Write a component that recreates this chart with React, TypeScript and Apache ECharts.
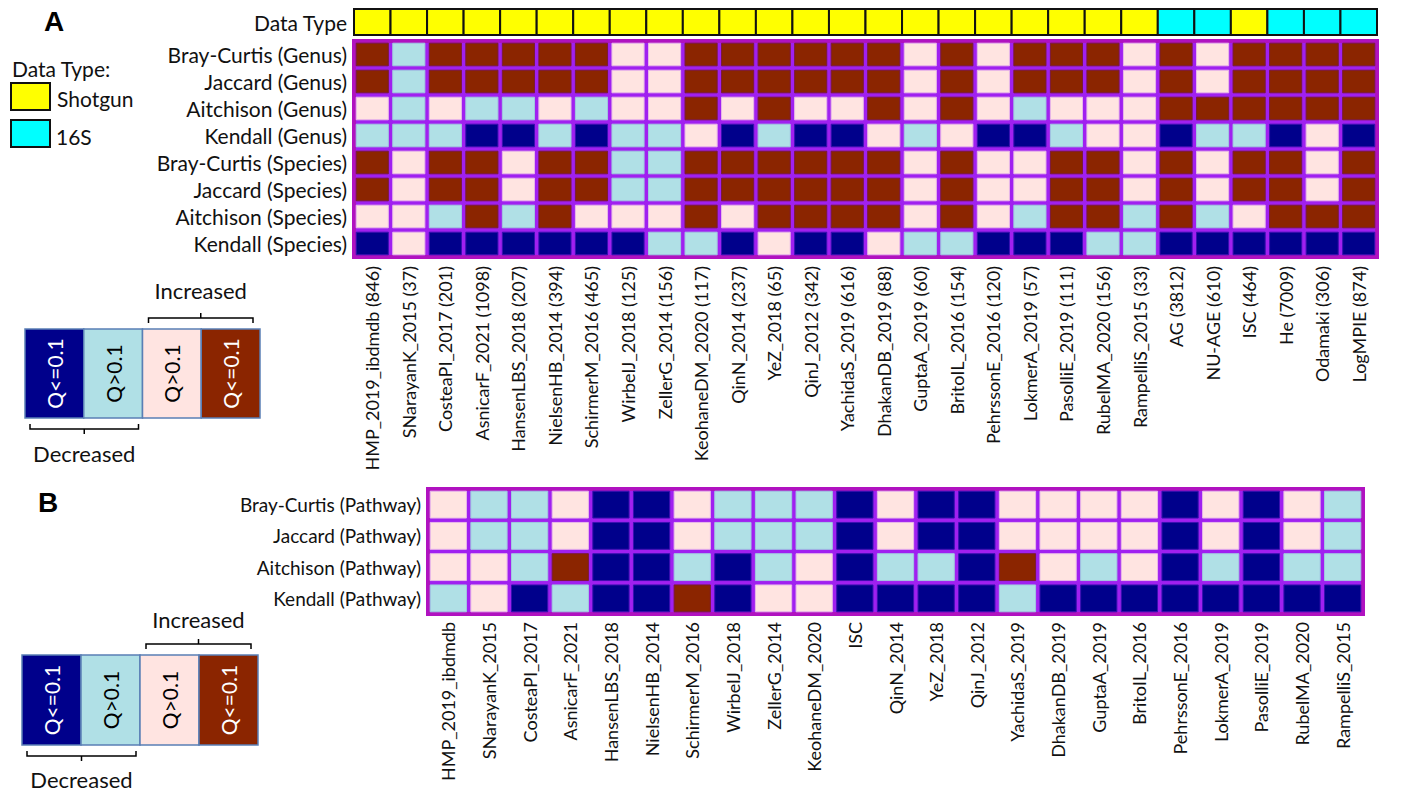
import React, { useEffect, useRef } from "react";
import * as echarts from "echarts";

// ---------- DATA ----------
const studiesA = [
  "HMP_2019_ibdmdb (846)", "SNarayanK_2015 (37)", "CosteaPI_2017 (201)", "AsnicarF_2021 (1098)",
  "HansenLBS_2018 (207)", "NielsenHB_2014 (394)", "SchirmerM_2016 (465)", "WirbelJ_2018 (125)",
  "ZellerG_2014 (156)", "KeohaneDM_2020 (117)", "QinN_2014 (237)", "YeZ_2018 (65)",
  "QinJ_2012 (342)", "YachidaS_2019 (616)", "DhakanDB_2019 (88)", "GuptaA_2019 (60)",
  "BritoIL_2016 (154)", "PehrssonE_2016 (120)", "LokmerA_2019 (57)", "PasolliE_2019 (111)",
  "RubelMA_2020 (156)", "RampelliS_2015 (33)", "AG (3812)", "NU-AGE (610)",
  "ISC (464)", "He (7009)", "Odamaki (306)", "LogMPIE (874)",
];
// 0 = Shotgun, 1 = 16S
const dataTypeA = [0,0,0,0,0,0,0,0,0,0,0,0,0,0,0,0,0,0,0,0,0,0,1,1,0,1,1,1];
const rowsA = [
  "Bray-Curtis (Genus)", "Jaccard (Genus)", "Aitchison (Genus)", "Kendall (Genus)",
  "Bray-Curtis (Species)", "Jaccard (Species)", "Aitchison (Species)", "Kendall (Species)",
];
// codes: 0 decreased Q<=0.1, 1 decreased Q>0.1, 2 increased Q>0.1, 3 increased Q<=0.1
const bcGenus   = [3,1,3,3,3,3,3,2,2,3,3,3,3,3, 3,2,3,2,3,3,3,2,3,2,3,3,3,3];
const jacGenus  = [3,1,3,3,3,3,3,2,2,3,3,3,3,3, 3,2,3,2,3,3,3,2,3,2,3,3,3,3];
const aitGenus  = [2,1,2,1,1,2,1,2,2,3,2,3,2,2, 3,2,3,2,1,2,2,2,3,3,3,3,3,3];
const kenGenus  = [1,1,1,0,0,1,0,1,1,2,0,1,0,0, 2,1,2,0,0,1,2,2,0,1,1,0,2,0];
const bcSpecies = [3,2,3,3,2,3,3,1,1,3,3,3,3,3, 3,2,3,2,2,3,3,2,3,2,3,3,2,3];
const jacSpecies= [3,2,3,3,2,3,3,1,1,3,3,3,3,3, 3,2,3,2,2,3,3,2,3,2,3,3,2,3];
const aitSpecies= [2,2,1,3,1,3,2,2,2,3,2,3,3,3, 3,2,3,2,1,3,3,1,3,1,2,3,3,3];
const kenSpecies= [0,2,0,0,0,0,0,0,1,1,0,2,0,0, 2,1,1,0,0,0,1,1,0,0,0,0,0,0];
const matrixA = [bcGenus, jacGenus, aitGenus, kenGenus, bcSpecies, jacSpecies, aitSpecies, kenSpecies];

const studiesB = [
  "HMP_2019_ibdmdb", "SNarayanK_2015", "CosteaPI_2017", "AsnicarF_2021", "HansenLBS_2018",
  "NielsenHB_2014", "SchirmerM_2016", "WirbelJ_2018", "ZellerG_2014", "KeohaneDM_2020",
  "ISC", "QinN_2014", "YeZ_2018", "QinJ_2012", "YachidaS_2019", "DhakanDB_2019",
  "GuptaA_2019", "BritoIL_2016", "PehrssonE_2016", "LokmerA_2019", "PasolliE_2019",
  "RubelMA_2020", "RampelliS_2015",
];
const rowsB = ["Bray-Curtis (Pathway)", "Jaccard (Pathway)", "Aitchison (Pathway)", "Kendall (Pathway)"];
const bcPath  = [2,1,1,2,0,0,2,1,1,1,0,2, 0,0,2,2,2,2,0,2,0,2,1];
const jacPath = [2,1,1,2,0,0,2,1,1,1,0,2, 0,0,2,2,2,2,0,2,0,2,1];
const aitPath = [2,2,1,3,0,0,1,0,1,2,0,1, 1,0,3,2,1,2,0,1,0,1,1];
const kenPath = [1,2,0,1,0,0,3,0,2,2,0,0, 0,0,1,0,0,0,0,0,0,0,0];
const matrixB = [bcPath, jacPath, aitPath, kenPath];

const legendCodes = [0, 1, 2, 3];
const legendLabels = ["Q<=0.1", "Q>0.1", "Q>0.1", "Q<=0.1"];

// ---------- STYLE ----------
const FONT = "Lato";
const CELL_FILL = ["#00008B", "#B0E0E6", "#FFE4E1", "#8B2500"];
const CELL_STROKE = ["#3a10b0", "#a0c8e0", "#e8b8e8", "#7a1a3a"];
const TYPE_FILL = ["#FFFF00", "#00FFFF"];
const GRID_BG = "#A020F0";
const GRID_BORDER = "#B012C0";

function toTriples(m: number[][]) {
  const out: number[][] = [];
  m.forEach((row, r) => row.forEach((v, c) => out.push([c, r, v])));
  return out;
}

const cellRender = (params: any, api: any) => {
  const c = api.coord([api.value(0), api.value(1)]);
  const s = api.size([1, 1]);
  const code = api.value(2);
  const g = 2.2;
  return {
    type: "rect",
    shape: { x: c[0] - s[0] / 2 + g, y: c[1] - s[1] / 2 + g, width: s[0] - 2 * g, height: s[1] - 2 * g },
    style: { fill: CELL_FILL[code], stroke: CELL_STROKE[code], lineWidth: 1 },
  };
};

const typeRender = (params: any, api: any) => {
  const c = api.coord([api.value(0), api.value(1)]);
  const s = api.size([1, 1]);
  const code = api.value(2);
  return {
    type: "rect",
    shape: { x: c[0] - s[0] / 2, y: c[1] - s[1] / 2, width: s[0], height: s[1] },
    style: { fill: TYPE_FILL[code], stroke: "#111", lineWidth: 2 },
  };
};

function qLegend(x0: number, y0: number, w: number, h: number, incY: number, decY: number) {
  const els: any[] = [];
  legendCodes.forEach((code, i) => {
    els.push({
      type: "rect",
      shape: { x: x0 + i * w, y: y0, width: w, height: h },
      style: { fill: CELL_FILL[code], stroke: "#5a7fb5", lineWidth: 1.5 },
    });
    els.push({
      type: "text",
      x: x0 + i * w + w / 2,
      y: y0 + h / 2,
      rotation: Math.PI / 2,
      style: {
        text: legendLabels[i],
        fill: code === 0 || code === 3 ? "#fff" : "#000",
        font: `21px ${FONT}`,
        align: "center",
        verticalAlign: "middle",
      },
    });
  });
  // Increased bracket (over boxes 3,4)
  const ix1 = x0 + 2 * w + 6, ix2 = x0 + 4 * w - 7, iy = y0 - 11;
  els.push({ type: "polyline", shape: { points: [[ix1, iy + 5], [ix1, iy], [ix2, iy], [ix2, iy + 5]] }, style: { stroke: "#000", lineWidth: 1.5, fill: null } });
  els.push({ type: "line", shape: { x1: (ix1 + ix2) / 2, y1: iy, x2: (ix1 + ix2) / 2, y2: iy - 5 }, style: { stroke: "#000", lineWidth: 1.5 } });
  els.push({ type: "text", x: (ix1 + ix2) / 2, y: incY, style: { text: "Increased", font: `22px ${FONT}`, fill: "#111", align: "center", verticalAlign: "middle" } });
  // Decreased bracket (under boxes 1,2)
  const dx1 = x0 + 5, dx2 = x0 + 2 * w - 4, dy = y0 + h + 11;
  els.push({ type: "polyline", shape: { points: [[dx1, dy - 5], [dx1, dy], [dx2, dy], [dx2, dy - 5]] }, style: { stroke: "#000", lineWidth: 1.5, fill: null } });
  els.push({ type: "line", shape: { x1: (dx1 + dx2) / 2, y1: dy, x2: (dx1 + dx2) / 2, y2: dy + 5 }, style: { stroke: "#000", lineWidth: 1.5 } });
  els.push({ type: "text", x: (dx1 + dx2) / 2, y: decY, style: { text: "Decreased", font: `22px ${FONT}`, fill: "#111", align: "center", verticalAlign: "middle" } });
  return els;
}

export default function App() {
  const ref = useRef<HTMLDivElement>(null);
  useEffect(() => {
    if (!ref.current) return;
    const chart = echarts.init(ref.current, null, { renderer: "svg" });
    const hidden = { axisLine: { show: false }, axisTick: { show: false }, splitLine: { show: false } };
    const rowLabel = (size: number) => ({ color: "#111", fontSize: size, fontFamily: FONT, margin: 7, interval: 0 });
    const colLabel = (size: number, m: number) => ({ color: "#111", fontSize: size, fontFamily: FONT, rotate: 90, margin: m, interval: 0 });

    const option: any = {
      animation: false,
      backgroundColor: "#fff",
      grid: [
        { left: 354, top: 9, width: 1023, height: 26, show: false, outerBoundsMode: "none", containLabel: false },
        { left: 354, top: 41, width: 1023, height: 216, show: true, backgroundColor: GRID_BG, borderColor: GRID_BORDER, borderWidth: 4, outerBoundsMode: "none", containLabel: false },
        { left: 428, top: 489, width: 935, height: 125, show: true, backgroundColor: GRID_BG, borderColor: GRID_BORDER, borderWidth: 4, outerBoundsMode: "none", containLabel: false },
      ],
      xAxis: [
        { type: "category", gridIndex: 0, data: studiesA, show: false },
        { type: "category", gridIndex: 1, data: studiesA, ...hidden, axisLabel: colLabel(18, 9) },
        { type: "category", gridIndex: 2, data: studiesB, ...hidden, axisLabel: colLabel(18, 8) },
      ],
      yAxis: [
        { type: "category", gridIndex: 0, data: ["Data Type"], ...hidden, axisLabel: rowLabel(21) },
        { type: "category", gridIndex: 1, data: rowsA, inverse: true, ...hidden, axisLabel: rowLabel(21) },
        { type: "category", gridIndex: 2, data: rowsB, inverse: true, ...hidden, axisLabel: rowLabel(19) },
      ],
      series: [
        { type: "custom", xAxisIndex: 0, yAxisIndex: 0, renderItem: typeRender, encode: { x: 0, y: 1 },
          data: dataTypeA.map((v, i) => [i, 0, v]) },
        { type: "custom", xAxisIndex: 1, yAxisIndex: 1, renderItem: cellRender, encode: { x: 0, y: 1 },
          data: toTriples(matrixA) },
        { type: "custom", xAxisIndex: 2, yAxisIndex: 2, renderItem: cellRender, encode: { x: 0, y: 1 },
          data: toTriples(matrixB) },
      ],
      graphic: [
        { type: "text", x: 44, y: 21, style: { text: "A", font: `bold 28px "Liberation Sans"`, fill: "#000", verticalAlign: "middle" } },
        { type: "text", x: 38, y: 502, style: { text: "B", font: `bold 28px "Liberation Sans"`, fill: "#000", verticalAlign: "middle" } },
        { type: "text", x: 12, y: 68, style: { text: "Data Type:", font: `21px ${FONT}`, fill: "#111", verticalAlign: "middle" } },
        { type: "rect", shape: { x: 11, y: 83, width: 39, height: 27 }, style: { fill: TYPE_FILL[0], stroke: "#111", lineWidth: 2 } },
        { type: "text", x: 57, y: 98, style: { text: "Shotgun", font: `21px ${FONT}`, fill: "#111", verticalAlign: "middle" } },
        { type: "rect", shape: { x: 11, y: 120, width: 39, height: 27 }, style: { fill: TYPE_FILL[1], stroke: "#111", lineWidth: 2 } },
        { type: "text", x: 56, y: 136, style: { text: "16S", font: `21px ${FONT}`, fill: "#111", verticalAlign: "middle" } },
        ...qLegend(25, 329, 58.75, 89, 290, 453),
        ...qLegend(22, 655, 59, 90, 619, 779),
      ],
    };
    chart.setOption(option);
    return () => chart.dispose();
  }, []);
  return (
    <div
      ref={ref}
      style={{ position: "fixed", left: 0, top: 0, width: 1405, height: 792, background: "#fff" }}
    />
  );
}
